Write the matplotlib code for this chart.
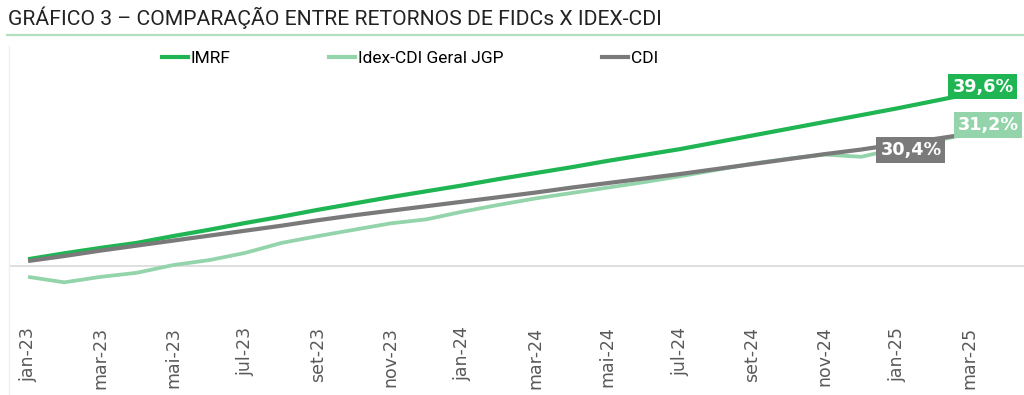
import matplotlib
matplotlib.use('Agg')
import matplotlib.pyplot as plt
from matplotlib.lines import Line2D

# monthly cumulative returns (%), jan-23 .. abr-25
months = ['jan-23', 'fev-23', 'mar-23', 'abr-23', 'mai-23', 'jun-23', 'jul-23',
          'ago-23', 'set-23', 'out-23', 'nov-23', 'dez-23',
          'jan-24', 'fev-24', 'mar-24', 'abr-24', 'mai-24', 'jun-24', 'jul-24',
          'ago-24', 'set-24', 'out-24', 'nov-24', 'dez-24',
          'jan-25', 'fev-25', 'mar-25', 'abr-25']
imrf = [1.5, 2.8, 4.0, 5.1, 6.6, 8.0, 9.5, 10.9, 12.4, 13.8, 15.2, 16.5, 17.8, 19.2,
        20.5, 21.8, 23.2, 24.5, 25.8, 27.3, 28.8, 30.3, 31.8, 33.3, 34.8, 36.4, 38.0, 39.6]
idex = [-2.4, -3.6, -2.4, -1.5, 0.2, 1.3, 2.9, 5.1, 6.6, 8.0, 9.4, 10.3, 12.0, 13.5,
        14.9, 16.1, 17.3, 18.5, 19.8, 21.2, 22.6, 23.7, 24.6, 24.1, 25.9, 27.5, 29.3, 31.2]
cdi = [1.1, 2.2, 3.4, 4.5, 5.6, 6.7, 7.8, 8.9, 10.1, 11.2, 12.2, 13.2, 14.2, 15.2,
       16.2, 17.3, 18.3, 19.3, 20.3, 21.4, 22.5, 23.6, 24.7, 25.7, 26.9, 28.0, 29.2, 30.4]

series = [
    ('IMRF', imrf, '#1fb553', 3.0),
    ('Idex-CDI Geral JGP', idex, '#93d4aa', 2.7),
    ('CDI', cdi, '#7a7a7a', 3.0),
]
label_offsets = {'IMRF': (-23, 0), 'Idex-CDI Geral JGP': (-18, 0), 'CDI': (-95, -22)}

W, H = 1024, 395
fig = plt.figure(figsize=(W / 100, H / 100), dpi=100)

# plot area in pixels: x 10..1024, y 60..310
ax = fig.add_axes([10 / W, (H - 310) / H, 1014 / W, 250 / H])
ax.set_xlim(-0.5, len(months) - 0.5)
ax.set_ylim(-9.71, 45.47)

x = list(range(len(months)))
for name, vals, color, lw in series:
    ax.plot(x, vals, color=color, lw=lw, solid_capstyle='butt', zorder=3)

ax.axhline(0, color='#d9d9d9', lw=1.2, zorder=1)

for name, vals, color, lw in series:
    ax.annotate(f'{vals[-1]:.1f}%'.replace('.', ','), xy=(x[-1], vals[-1]),
                xytext=label_offsets[name], textcoords='offset pixels',
                ha='center', va='center', fontsize=12.7, fontweight='bold',
                family='DejaVu Sans', color='white', zorder=5,
                bbox=dict(boxstyle='square,pad=0.22', fc=color, ec='none'))

ax.set_xticks(x[::2])
ax.set_xticklabels(months[::2], rotation=90, fontsize=12.5, color='#595959',
                   family='DejaVu Sans')
ax.tick_params(axis='x', length=0, pad=12)
ax.set_yticks([])
for s in ax.spines.values():
    s.set_visible(False)

handles = [Line2D([], [], color=c, lw=3.0) for _, _, c, _ in series]
fig.legend(handles, [n for n, _, _, _ in series], loc='center left',
           bbox_to_anchor=(162 / W, (H - 58) / H), ncol=3, frameon=False,
           borderpad=0, borderaxespad=0, handlelength=1.5, handletextpad=0.17,
           columnspacing=5.65,
           prop={'family': 'Roboto', 'size': 12.5})

# title and rules
fig.text(8 / W, (H - 18) / H, 'GRÁFICO 3 – COMPARAÇÃO ENTRE RETORNOS DE FIDCs X IDEX-CDI',
         ha='left', va='center', fontsize=15.2, color='#222222', family='Roboto')
fig.add_artist(Line2D([7 / W, 1], [(H - 35) / H] * 2, color='#b3dfc1', lw=1.6))
fig.add_artist(Line2D([9 / W, 9 / W], [0, (H - 46) / H], color='#f0f0f0', lw=1))

fig.savefig('out.png', dpi=100)
